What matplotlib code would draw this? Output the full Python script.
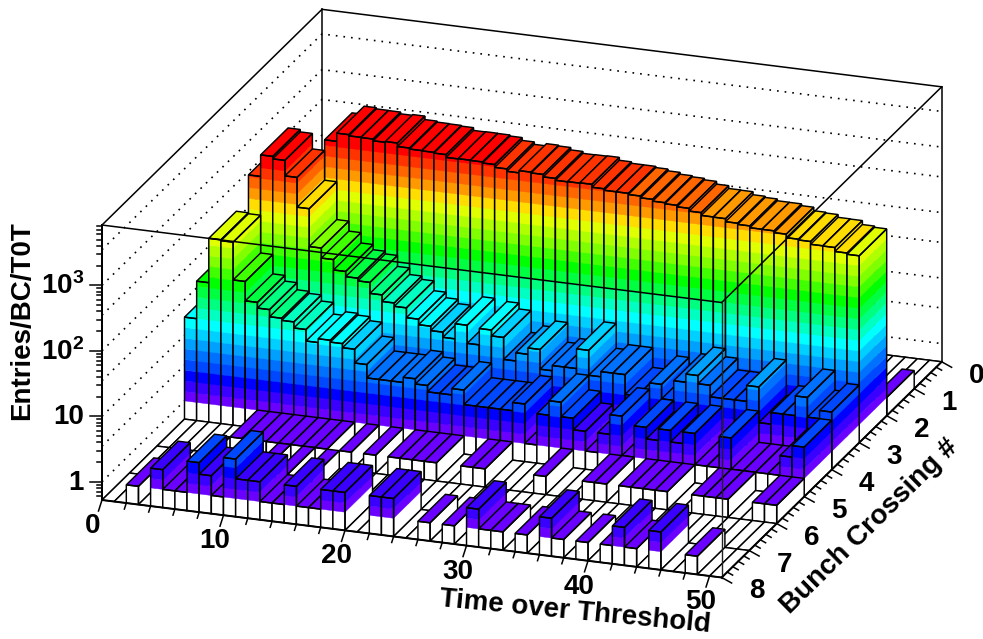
import numpy as np
import matplotlib
matplotlib.use('Agg')
import matplotlib.pyplot as plt
from matplotlib.collections import PolyCollection

plt.rcParams['font.family'] = ['Liberation Sans', 'DejaVu Sans']
plt.rcParams['mathtext.fontset'] = 'custom'
plt.rcParams['mathtext.bf'] = 'Liberation Sans:bold'
plt.rcParams['mathtext.rm'] = 'Liberation Sans:bold'

# entries per time-over-threshold bin (0..50), one list per bunch crossing bin
bc0 = [0] * 51
bc1 = [0] * 50 + [1]
bc2 = [0, 0, 0, 0, 0, 0, 0, 2115, 2820, 2705, 2690, 2530, 2600, 2300, 2220, 2200, 2145, 1945, 1960, 1945,
       1875, 1695, 1557, 1683, 1637, 1503, 1406, 1416, 1432, 1292, 1227, 1225, 1175, 1104, 1035, 996, 945,
       857, 776, 771, 693, 665, 624, 622, 584, 516, 502, 455, 452, 393, 376]
bc3 = [0, 0, 0, 1283, 2735, 2510, 1455, 511, 135, 95, 66, 55, 50, 34, 27, 24, 17, 14, 12, 10,
       17, 9, 16, 13, 6, 8, 10, 5, 6, 6, 12, 5, 6, 6, 3, 3, 5, 3, 6, 8, 6, 4, 4, 4, 7, 2, 3, 3, 6, 3, 4]
bc4 = [19, 71, 339, 328, 87, 44, 36, 28, 26, 21, 14, 16, 15, 13, 8, 5, 5, 5, 6, 5,
       4, 4, 5, 3, 3, 3, 3, 4, 1, 3, 5, 3, 2, 1, 2, 4, 1, 3, 2, 3, 2, 3, 1, 1, 3, 1, 1, 1, 1, 2, 3]
bc5 = [0, 0, 0, 0, 0, 0, 1, 1, 1, 1, 1, 1, 1, 1, 0, 1, 0, 1, 0, 1,
       1, 1, 1, 0, 0, 1, 1, 0, 0, 0, 0, 1, 0, 0, 0, 1, 1, 0, 1, 1, 1, 1, 0, 0, 1, 1, 1, 0, 0, 1, 1]
bc6 = [0, 0, 0, 0, 0, 1, 0, 0, 0, 0, 1, 0, 1, 0, 1, 0, 0, 0, 0, 0,
       0, 0, 0, 0, 0, 0, 0, 0, 0, 0, 0, 0, 0, 0, 0, 0, 0, 0, 0, 0, 0, 0, 0, 0, 0, 0, 0, 0, 0, 0, 0]
bc7 = [0, 0, 1, 0, 2, 1, 1, 3, 2, 1, 4, 2, 2, 1, 1, 2, 1, 1, 2, 2,
       0, 0, 2, 2, 0, 0, 1, 0, 1, 0, 2, 1, 1, 0, 1, 0, 2, 1, 0, 1, 0, 1, 2, 1, 0, 2, 0, 0, 1, 0, 0]
rows = [bc0, bc1, bc2, bc3, bc4, bc5, bc6, bc7]

x_ticks = [0, 10, 20, 30, 40, 50]
bc_ticks = [0, 1, 2, 3, 4, 5, 6, 7, 8]
z_ticks = [1, 10, 100, 1000]
z_labels = ['1', '10', r'$\mathbf{10^{2}}$', r'$\mathbf{10^{3}}$']
grid_vals = [1, 3.5, 10, 35, 100, 350, 1000, 3500]
palette = ['#6a00ff', '#3a00ff', '#0000ff', '#0048ff', '#0070ff', '#00a0ff', '#00d0ff', '#00ffff', '#00ffc0',
           '#00ff80', '#00ff40', '#00ff00', '#40ff00', '#80ff00', '#b0ff00', '#e0ff00', '#ffdd00', '#ff9900',
           '#ff6600', '#ff3300', '#ff0000']

# projection of the lego box on the page, in pixels
X0, Y0 = 102.0, 500.0
XMAX, BCMAX = 51.0, 8.0
UX = np.array([619.7, 77.5]) / XMAX
UB = np.array([220.0, -215.7]) / BCMAX
DECADE = 65.5
LOG_ZMIN = -0.278
LOG_ZMAX = 3.92
BAND = 0.163
BAND_START = -0.02
LW = 1.05


def proj(t, b, z):
    k = BCMAX - b
    h = (np.log10(z) - LOG_ZMIN) * DECADE
    return (X0 + UX[0] * t + UB[0] * k, Y0 + UX[1] * t + UB[1] * k - h)


def quad(*pts):
    return [proj(*p) for p in pts]


fig = plt.figure(figsize=(9.83, 6.39), dpi=100)
ax = fig.add_axes([0, 0, 1, 1])
ax.set_xlim(0, 983)
ax.set_ylim(639, 0)
ax.axis('off')

zmin, zmax = 10 ** LOG_ZMIN, 10 ** LOG_ZMAX
# colour band edges, white below 1
band_edges = np.array([1.0] + [10 ** (BAND_START + BAND * i) for i in range(1, len(palette))])


def seg(p, q, **kw):
    style = dict(color='black', lw=1.1, solid_capstyle='projecting')
    style.update(kw)
    ax.plot([p[0], q[0]], [p[1], q[1]], **style)


# back walls and grid
for z in grid_vals:
    p1, p2, p3 = proj(0, 8, z), proj(0, 0, z), proj(XMAX, 0, z)
    ax.plot([p1[0], p2[0], p3[0]], [p1[1], p2[1], p3[1]], color='black', lw=1.2,
            dashes=(1, 3.6), zorder=1)
seg(proj(0, 0, zmin), proj(0, 0, zmax), zorder=1)
seg(proj(0, 0, zmin), proj(XMAX, 0, zmin), zorder=1)
seg(proj(0, 0, zmin), proj(0, 8, zmin), zorder=1)
seg(proj(XMAX, 0, zmin), proj(XMAX, 0, zmax), zorder=1)
seg(proj(0, 0, zmax), proj(XMAX, 0, zmax), zorder=1)
seg(proj(0, 0, zmax), proj(0, 8, zmax), zorder=1)
seg(proj(0, 8, zmin), proj(0, 8, zmax), zorder=1)

# bars, painted back row first and left to right
polys, faces, edges, widths = [], [], [], []


def add(poly, face, edge='none', lw=0.3):
    polys.append(poly)
    faces.append(face)
    edges.append(edge if edge != 'none' else face)
    widths.append(lw)


for b, row in enumerate(rows):
    for t, v in enumerate(row):
        b0, b1 = b + 1, b  # front and back edge of the cell
        t0, t1 = t, t + 1
        if v <= 0:
            add(quad((t0, b0, zmin), (t1, b0, zmin), (t1, b1, zmin), (t0, b1, zmin)), 'white', 'black', LW)
            continue
        levels = [zmin] + [e for e in band_edges if e < v] + [v]
        for i in range(len(levels) - 1):
            lo, hi = levels[i], levels[i + 1]
            col = 'white' if i == 0 else palette[i - 1]
            add(quad((t0, b0, lo), (t1, b0, lo), (t1, b0, hi), (t0, b0, hi)), col)
            add(quad((t1, b0, lo), (t1, b1, lo), (t1, b1, hi), (t1, b0, hi)), col)
        top = palette[np.searchsorted(band_edges, v, side='right') - 1]
        add(quad((t0, b0, v), (t1, b0, v), (t1, b1, v), (t0, b1, v)), top, 'black', LW)
        add(quad((t0, b0, zmin), (t1, b0, zmin), (t1, b0, v), (t0, b0, v)), 'none', 'black', LW)
        add(quad((t1, b0, zmin), (t1, b1, zmin), (t1, b1, v), (t1, b0, v)), 'none', 'black', LW)

ax.add_collection(PolyCollection(polys, facecolors=faces, edgecolors=edges, linewidths=widths,
                                 joinstyle='miter', zorder=2))

# front lines of the box on top of the bars
seg(proj(0, 8, zmax), proj(XMAX, 8, zmax), zorder=3)
seg(proj(XMAX, 8, zmax), proj(XMAX, 8, zmin), zorder=3, lw=1.0, color='#222222')
seg(proj(XMAX, 8, zmax), proj(XMAX, 0, zmax), zorder=3)
seg(proj(0, 8, zmin), proj(XMAX, 8, zmin), zorder=3, lw=1.4)
seg(proj(XMAX, 8, zmin), proj(XMAX, 0, zmin), zorder=3, lw=1.4)
seg(proj(0, 8, zmin), proj(0, 8, zmax), zorder=3, lw=1.4)

# z axis ticks
for dec in range(0, 4):
    for m in range(1, 10):
        z = m * 10.0 ** dec
        if z > zmax:
            continue
        p = proj(0, 8, z)
        ax.plot([p[0] - (12 if m == 1 else 5), p[0]], [p[1], p[1]], color='black', lw=1.1, zorder=3)
for m in [6, 7, 8, 9]:
    p = proj(0, 8, m * 0.1)
    ax.plot([p[0] - 5, p[0]], [p[1], p[1]], color='black', lw=1.1, zorder=3)
for z, lab in zip(z_ticks, z_labels):
    p = proj(0, 8, z)
    ax.text(p[0] - 18, p[1] + 1, lab, ha='right', va='center', fontsize=20, fontweight='bold')

# x axis ticks
for t in range(0, 52, 2):
    p = proj(t, 8, zmin)
    n = 11 if t % 10 == 0 else 6
    ax.plot([p[0], p[0] - 0.32 * n], [p[1], p[1] + n], color='black', lw=1.1, zorder=3)
for t in x_ticks:
    p = proj(t, 8, zmin)
    ax.text(p[0] - 9, p[1] + 26, str(t), ha='center', va='center', fontsize=20, fontweight='bold')

# bunch crossing axis ticks
for i in range(0, 41):
    b = i / 5
    p = proj(XMAX, b, zmin)
    n = 11 if i % 5 == 0 else 6
    ax.plot([p[0], p[0] + n * 0.9], [p[1], p[1] + n * 0.5], color='black', lw=1.1, zorder=3)
for b in bc_ticks:
    p = proj(XMAX, b, zmin)
    ax.text(p[0] + 35, p[1] + 14, str(b), ha='center', va='center', fontsize=20, fontweight='bold')

ax.text(575, 612, 'Time over Threshold', rotation=-5.5, ha='center', va='center',
        fontsize=20, fontweight='bold', rotation_mode='anchor')
ax.text(870, 527, 'Bunch Crossing #', rotation=44.5, ha='center', va='center',
        fontsize=20, fontweight='bold', rotation_mode='anchor')
ax.text(22, 321, 'Entries/BC/T0T', rotation=90, ha='center', va='center',
        fontsize=20, fontweight='bold')

fig.savefig('out.png', dpi=100)
